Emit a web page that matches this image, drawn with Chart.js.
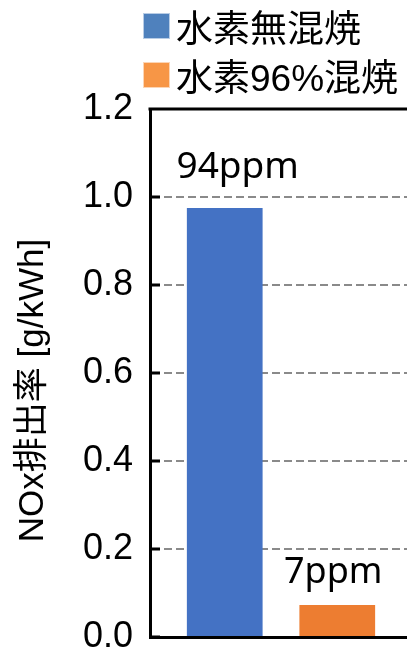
<!DOCTYPE html>
<html>
<head>
<meta charset="utf-8">
<script src="https://cdn.jsdelivr.net/npm/chart.js@4"></script>
<style>
  html, body { margin: 0; padding: 0; background: #fff; overflow: hidden; }
  #wrap { position: relative; width: 407px; height: 651px; overflow: hidden; }
  #chart { position: absolute; left: 0; top: 0; }
  #legend { position: absolute; left: 143px; top: 1px; font-family: "Liberation Sans", "Noto Sans CJK JP", sans-serif; font-size: 37px; color: #000; }
  .item { display: flex; align-items: center; height: 49px; white-space: nowrap; }
  .box { width: 27px; height: 26px; margin-right: 6px; box-sizing: border-box; border: 1px solid rgba(255,255,255,0.6); }
</style>
</head>
<body>
<div id="wrap">
  <canvas id="chart" width="420" height="690"></canvas>
  <div id="legend"></div>
</div>
<script>
    const categories = [''];
    const seriesNames = ['水素無混焼', '水素96%混焼'];
    const noxRate = [0.975, 0.073];           // g/kWh
    const ppmLabels = ['94ppm', '7ppm'];
    const barColors = ['#4472C4', '#ED7D31'];
    const legendColors = ['#4F81BD', '#F79646'];
    const yTitle = 'NOx排出率 [g/kWh]';

    // legend made from the series names
    const legendEl = document.getElementById('legend');
    seriesNames.forEach((name, i) => {
      const row = document.createElement('div');
      row.className = 'item';
      row.innerHTML = '<span class="box" style="background:' + legendColors[i] + '"></span><span>' + name + '</span>';
      legendEl.appendChild(row);
    });

    // top frame line and short black ticks inside the y axis
    const framePlugin = {
      id: 'frame',
      afterDraw(chart) {
        const { ctx, chartArea, scales } = chart;
        ctx.save();
        ctx.strokeStyle = '#000';
        ctx.lineWidth = 3;
        ctx.beginPath();
        ctx.moveTo(chartArea.left - 1.5, chartArea.top);
        ctx.lineTo(chartArea.right, chartArea.top);
        scales.y.ticks.forEach(t => {
          const y = scales.y.getPixelForValue(t.value);
          ctx.moveTo(chartArea.left, y);
          ctx.lineTo(chartArea.left + 10, y);
        });
        ctx.stroke();
        ctx.restore();
      }
    };

    // ppm text over each bar
    const labelOffsets = [{ dx: 13, dy: 30, size: 37 }, { dx: -4, dy: 22, size: 36 }];
    const ppmPlugin = {
      id: 'ppm',
      afterDatasetsDraw(chart) {
        const { ctx } = chart;
        ctx.save();
        ctx.fillStyle = '#000';
        ctx.textAlign = 'center';
        ctx.textBaseline = 'alphabetic';
        chart.data.datasets.forEach((ds, i) => {
          const bar = chart.getDatasetMeta(i).data[0];
          const o = labelOffsets[i];
          ctx.font = o.size + 'px "Noto Sans", sans-serif';
          ctx.fillText(ppmLabels[i], bar.x + o.dx, bar.y - o.dy);
        });
        ctx.restore();
      }
    };

    const ctx = document.getElementById('chart').getContext('2d');
    new Chart(ctx, {
      type: 'bar',
      data: {
        labels: categories,
        datasets: seriesNames.map((name, i) => ({
          label: name,
          data: [noxRate[i]],
          backgroundColor: barColors[i],
          borderWidth: 0,
          barPercentage: 0.673,
          categoryPercentage: 0.859,
        })),
      },
      options: {
        responsive: false,
        animation: false,
        layout: { padding: { top: 109, right: 8, bottom: 53, left: 0 } },
        plugins: {
          legend: { display: false },
          tooltip: { enabled: false },
        },
        scales: {
          x: {
            ticks: { display: false },
            grid: { display: false, drawTicks: false },
            border: { display: true, color: '#000', width: 3 },
          },
          y: {
            min: 0,
            max: 1.2,
            afterFit: s => { s.width = 150; },
            ticks: {
              stepSize: 0.2,
              padding: 17,
              color: '#000',
              font: { family: '"Liberation Sans", Arial, sans-serif', size: 36 },
              callback: v => Number(v).toFixed(1),
            },
            grid: {
              drawTicks: false,
              lineWidth: 2,
              color: c => (c.tick.value === 0 || c.tick.value === 1.2) ? 'rgba(0,0,0,0)' : '#8a8a8a',
            },
            border: { display: true, color: '#000', width: 3, dash: [8, 4] },
            title: {
              display: true,
              text: yTitle + '\u2003',   // trailing space pushes the title a bit lower
              color: '#000',
              padding: { top: 12, bottom: 0 },
              font: { family: '"Liberation Sans", "Noto Sans CJK JP", sans-serif', size: 35 },
            },
          },
        },
      },
      plugins: [framePlugin, ppmPlugin],
    });
</script>
</body>
</html>
